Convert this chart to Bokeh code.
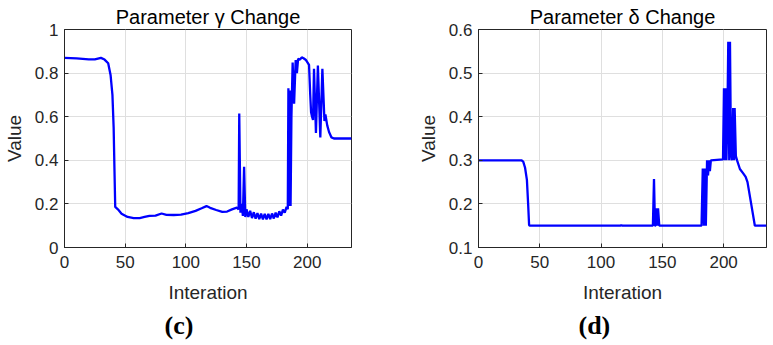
from bokeh.plotting import figure
from bokeh.layouts import row
from bokeh.models import FixedTicker, Range1d, Title
from bokeh.embed import file_html
from bokeh.resources import INLINE

# ---- data: parameter gamma ----
gamma_x = [0, 10, 20, 25, 30, 33, 36, 38, 39.5, 40.5, 41.2, 41.8, 44, 47, 52, 57, 62, 66, 70, 75,
           80, 84, 90, 96, 102, 108, 113, 117, 120, 125, 130, 134, 138, 142, 143.5, 144, 145, 146,
           147, 148, 149, 150, 151.5, 153, 154.5, 156, 157.5, 159, 160.5, 162, 163.5, 165, 166.5,
           168, 169.5, 171, 172.5, 174, 175.5, 177, 178.5, 180, 181.5, 183, 184, 184.5, 185,
           185.7, 186.3, 187, 188, 189.2, 190.5, 191.5, 192.5, 194, 195.5, 197, 199, 201.5, 202.5,
           203.2, 204, 204.8, 205.6, 207.2, 208.8, 210.8, 212.5, 214.2, 215, 216.5, 218, 220, 222,
           236.5]
gamma_y = [0.870, 0.868, 0.863, 0.863, 0.870, 0.862, 0.845, 0.790, 0.700, 0.550, 0.350, 0.186,
           0.175, 0.155, 0.140, 0.135, 0.135, 0.140, 0.145, 0.146, 0.156, 0.150, 0.149, 0.151,
           0.158, 0.168, 0.180, 0.190, 0.182, 0.172, 0.163, 0.165, 0.175, 0.183, 0.175, 0.615,
           0.160, 0.200, 0.145, 0.370, 0.140, 0.175, 0.140, 0.168, 0.135, 0.162, 0.132, 0.158,
           0.130, 0.155, 0.129, 0.154, 0.129, 0.154, 0.130, 0.156, 0.133, 0.160, 0.138, 0.166,
           0.146, 0.174, 0.160, 0.186, 0.175, 0.730, 0.190, 0.720, 0.190, 0.600, 0.848, 0.660,
           0.860, 0.800, 0.865, 0.862, 0.872, 0.868, 0.860, 0.838, 0.700, 0.620, 0.600, 0.585,
           0.820, 0.525, 0.835, 0.505, 0.820, 0.580, 0.610, 0.560, 0.530, 0.505, 0.500, 0.500]

# ---- data: parameter delta ----
delta_x = [0, 35, 36.5, 38, 39.5, 40.5, 41.3, 42, 116, 116.5, 117, 142.3, 143.2, 144, 144.5,
           145.2, 145.8, 146.5, 147.5, 182, 183, 184, 184.8, 185.5, 186.5, 187.3, 188, 188.8,
           189.6, 199.5, 200.3, 200.8, 201.6, 202.3, 203.2, 203.8, 204.6, 205.2, 206, 206.8,
           207.8, 208.6, 209, 210, 211, 213.3, 216, 218, 219.5, 222.5, 225.5, 235]
delta_y = [0.300, 0.300, 0.297, 0.283, 0.255, 0.200, 0.151, 0.150, 0.150, 0.152, 0.150, 0.150,
           0.257, 0.150, 0.150, 0.190, 0.150, 0.190, 0.150, 0.150, 0.281, 0.150, 0.281, 0.150,
           0.300, 0.265, 0.300, 0.275, 0.300, 0.302, 0.465, 0.300, 0.465, 0.300, 0.420, 0.572,
           0.300, 0.572, 0.320, 0.300, 0.420, 0.300, 0.420, 0.310, 0.300, 0.280, 0.270, 0.262,
           0.250, 0.200, 0.150, 0.150]

x_ticks = [0, 50, 100, 150, 200]
gamma_ticks = [0, 0.2, 0.4, 0.6, 0.8, 1.0]
gamma_labels = {0: "0", 1: "1"}
delta_ticks = [0.1, 0.2, 0.3, 0.4, 0.5, 0.6]

FONT = "Liberation Sans"
DARK = "#262626"
GRID = "#dfdfdf"


def make(title, caption, xs, ys, xmax, ymin, ymax, yticks, ylabels, width, bl, br):
    p = figure(width=width, height=345, output_backend="svg", toolbar_location=None,
               x_range=Range1d(0, xmax), y_range=Range1d(ymin, ymax),
               min_border_left=bl, min_border_right=br, min_border_top=29,
               min_border_bottom=98)
    p.background_fill_color = "white"
    p.border_fill_color = "white"
    p.outline_line_color = DARK
    p.outline_line_width = 1
    p.title.text = title
    p.title.align = "center"
    p.title.text_font = FONT
    p.title.text_font_size = "20px"
    p.title.text_font_style = "normal"
    p.title.text_color = "#000000"
    p.title.standoff = 3

    p.line(xs, ys, line_color="#0000FF", line_width=2.3)

    p.xaxis.ticker = FixedTicker(ticks=x_ticks)
    p.yaxis.ticker = FixedTicker(ticks=yticks)
    if ylabels:
        p.yaxis.major_label_overrides = ylabels
    for ax in (p.xaxis[0], p.yaxis[0]):
        ax.major_tick_in = 4
        ax.major_tick_out = 0
        ax.minor_tick_line_color = None
        ax.axis_line_color = DARK
        ax.major_tick_line_color = DARK
        ax.major_label_text_font = FONT
        ax.major_label_text_font_size = "17px"
        ax.major_label_text_color = DARK
        ax.axis_label_text_font = FONT
        ax.axis_label_text_font_size = "19px"
        ax.axis_label_text_font_style = "normal"
        ax.axis_label_text_color = DARK
    p.xaxis.axis_label = "Interation"
    p.yaxis.axis_label = "Value"
    p.xaxis.major_label_standoff = 8
    p.xaxis.axis_label_standoff = 11
    p.yaxis.major_label_standoff = 6
    p.yaxis.axis_label_standoff = 7

    p.xgrid.grid_line_color = GRID
    p.ygrid.grid_line_color = GRID

    cap = Title(text=caption, align="left", text_font="Liberation Serif",
                text_font_size="26px", text_font_style="bold", text_color="#000000",
                offset=100, standoff=7)
    p.add_layout(cap, "below")
    return p


p1 = make("Parameter γ Change", "(c)", gamma_x, gamma_y, 236.5, 0, 1, gamma_ticks,
          gamma_labels, 368, 63, 17)
p2 = make("Parameter δ Change", "(d)", delta_x, delta_y, 235, 0.1, 0.6, delta_ticks,
          None, 405, 110, 7)

layout = row(p1, p2)
open("out.html", "w").write(file_html(layout, INLINE))
